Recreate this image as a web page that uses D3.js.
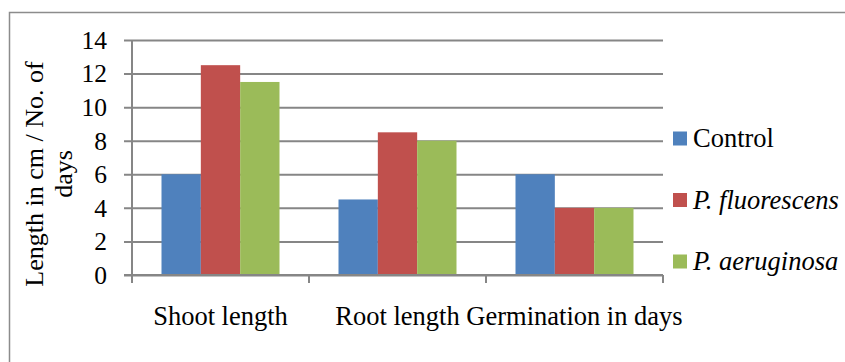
<!DOCTYPE html>
<html>
<head>
<meta charset="utf-8">
<script src="https://cdn.jsdelivr.net/npm/d3@7"></script>
<style>
  body { margin: 0; background: #fff; }
  svg text { font-family: "Liberation Serif", serif; fill: #000; }
</style>
</head>
<body>
<script>
var categories = ["Shoot length", "Root length", "Germination in days"];
var series = ["Control", "P. fluorescens", "P. aeruginosa"];
var controlValues = [6, 4.5, 6];
var fluorescensValues = [12.5, 8.5, 4];
var aeruginosaValues = [11.5, 8, 4];
var yTicks = [0, 2, 4, 6, 8, 10, 12, 14];
var colors = ["#4F81BD", "#C0504D", "#9BBB59"];

var seriesValues = [controlValues, fluorescensValues, aeruginosaValues];

var width = 845;
var height = 362;
var plotLeft = 132, plotRight = 663, plotTop = 40, plotBottom = 275;

var svg = d3.select("body")
    .append("svg")
    .attr("width", width)
    .attr("height", height);

// outer frame
svg.append("rect")
    .attr("x", 9.5)
    .attr("y", 12.5)
    .attr("width", 900)
    .attr("height", 400)
    .attr("fill", "none")
    .attr("stroke", "#8c8c8c")
    .attr("stroke-width", 1.5);

// scales
var x = d3.scaleBand()
    .domain(categories)
    .range([plotLeft, plotRight]);

var xInner = d3.scaleBand()
    .domain(series)
    .range([0, x.bandwidth()])
    .paddingInner(0)
    .paddingOuter(0.75);

var y = d3.scaleLinear()
    .domain([0, 14])
    .range([plotBottom, plotTop]);

// gridlines via axis
var yAxis = d3.axisLeft(y)
    .tickValues(yTicks)
    .tickSize(plotRight - plotLeft + 8)
    .tickFormat("");

var yg = svg.append("g")
    .attr("transform", "translate(" + plotRight + ",0)")
    .call(yAxis);
yg.select(".domain").remove();
yg.selectAll(".tick line")
    .attr("stroke", "#868686")
    .attr("stroke-width", 2);

// tick labels
svg.append("g")
    .selectAll("text")
    .data(yTicks)
    .enter()
    .append("text")
    .attr("x", 107)
    .attr("y", function(d) { return y(d); })
    .attr("dy", "0.35em")
    .style("text-anchor", "end")
    .style("font-size", "25.5px")
    .text(function(d) { return d; });

// y axis line
svg.append("line")
    .attr("x1", plotLeft).attr("x2", plotLeft)
    .attr("y1", plotTop).attr("y2", plotBottom)
    .attr("stroke", "#868686")
    .attr("stroke-width", 2);

// bars
categories.forEach(function(cat, ci) {
    series.forEach(function(s, si) {
        var v = seriesValues[si][ci];
        svg.append("rect")
            .attr("x", x(cat) + xInner(s))
            .attr("y", y(v))
            .attr("width", xInner.bandwidth())
            .attr("height", y(0) - y(v))
            .attr("fill", colors[si]);
    });
});

// x axis line
svg.append("line")
    .attr("x1", plotLeft - 8).attr("x2", plotRight)
    .attr("y1", plotBottom).attr("y2", plotBottom)
    .attr("stroke", "#868686")
    .attr("stroke-width", 2);

var boundaries = categories.map(function(c) { return x(c); }).concat([plotRight]);
svg.append("g")
    .selectAll("line")
    .data(boundaries)
    .enter()
    .append("line")
    .attr("x1", function(d) { return d; })
    .attr("x2", function(d) { return d; })
    .attr("y1", plotBottom)
    .attr("y2", plotBottom + 8)
    .attr("stroke", "#868686")
    .attr("stroke-width", 2);

// category labels
svg.append("g")
    .selectAll("text")
    .data(categories)
    .enter()
    .append("text")
    .attr("x", function(d) { return x(d) + x.bandwidth() / 2; })
    .attr("y", 325)
    .style("text-anchor", "middle")
    .style("font-size", "26.5px")
    .text(function(d) { return d; });

// y axis title
var yTitle = ["Length in cm / No. of", "days"];
var yTitleX = [43, 72];
svg.append("g")
    .selectAll("text")
    .data(yTitle)
    .enter()
    .append("text")
    .attr("transform", function(d, i) { return "translate(" + yTitleX[i] + ",174) rotate(-90)"; })
    .style("text-anchor", "middle")
    .style("font-size", "26px")
    .text(function(d) { return d; });

// legend
var legendY = [138.5, 200, 261.5];
var legend = svg.append("g")
    .selectAll("g")
    .data(series)
    .enter()
    .append("g")
    .attr("transform", function(d, i) { return "translate(673," + legendY[i] + ")"; });

legend.append("rect")
    .attr("x", 0)
    .attr("y", -7)
    .attr("width", 14)
    .attr("height", 14)
    .attr("fill", function(d, i) { return colors[i]; });

legend.append("text")
    .attr("x", 20)
    .attr("y", 0)
    .attr("dy", "0.33em")
    .style("font-size", "26.5px")
    .style("font-style", function(d, i) { return i == 0 ? "normal" : "italic"; })
    .text(function(d) { return d; });
</script>
</body>
</html>
